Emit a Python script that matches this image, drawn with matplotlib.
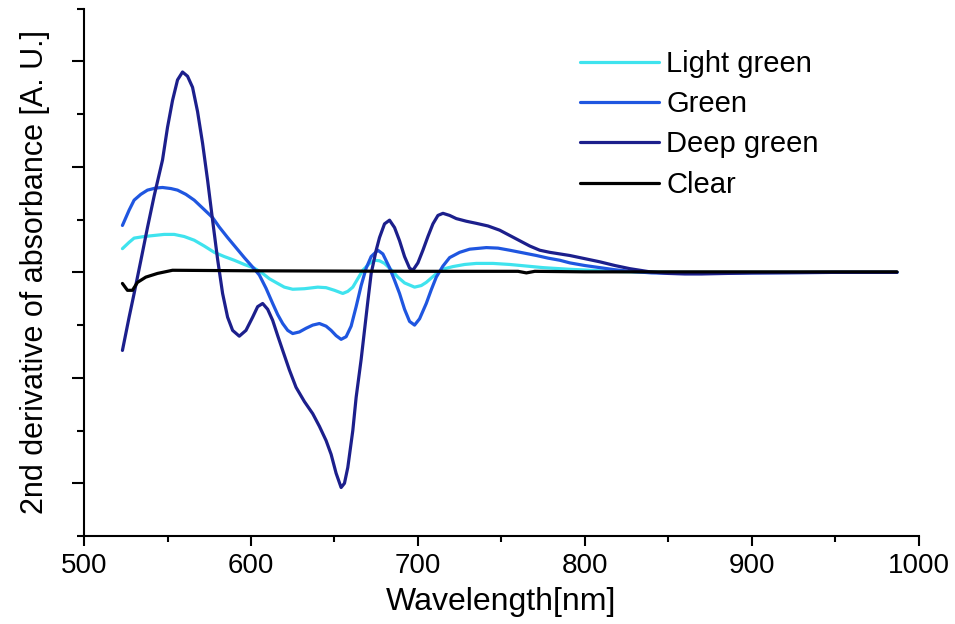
import numpy as np
import matplotlib
matplotlib.use("Agg")
import matplotlib.pyplot as plt
from matplotlib.ticker import MultipleLocator, NullFormatter

plt.rcParams['font.family'] = ['Liberation Sans', 'DejaVu Sans']

# values (wavelength in nm, 2nd derivative in A.U.)
light_nm = [523, 527, 530, 536, 542, 548, 554, 560, 566, 572, 578, 584, 590, 596,
            602, 607, 611, 616, 620, 625, 632, 640, 645, 650, 655, 658, 661, 664,
            667, 671, 674, 677, 680, 684, 688, 692, 698, 702, 705, 709, 712, 716,
            721, 728, 735, 745, 755, 765, 775, 790, 803, 815, 830, 860, 987]
light_val = [0.45, 0.57, 0.65, 0.68, 0.70, 0.72, 0.72, 0.68, 0.61, 0.50, 0.38,
             0.30, 0.23, 0.15, 0.08, -0.02, -0.12, -0.21, -0.28, -0.32, -0.31,
             -0.28, -0.29, -0.34, -0.40, -0.36, -0.28, -0.12, 0.04, 0.17, 0.23,
             0.22, 0.17, 0.05, -0.09, -0.20, -0.28, -0.25, -0.19, -0.08, 0.0,
             0.07, 0.11, 0.15, 0.17, 0.17, 0.15, 0.12, 0.09, 0.06, 0.04, 0.02,
             0.01, 0.0, 0.0]

green_nm = [523, 527, 530, 534, 538, 543, 547, 552, 556, 561, 566, 571, 577, 581,
            586, 591, 596, 601, 605, 609, 613, 616, 619, 622, 625, 629, 633, 637,
            641, 645, 648, 651, 654, 657, 660, 663, 666, 669, 672, 676, 679, 683,
            686, 689, 692, 695, 698, 701, 705, 708, 711, 715, 719, 725, 731, 741,
            748, 755, 763, 771, 778, 785, 791, 800, 809, 818, 827, 840, 855, 870,
            900, 950, 987]
green_val = [0.89, 1.18, 1.37, 1.48, 1.56, 1.60, 1.61, 1.59, 1.56, 1.48, 1.37,
             1.22, 1.04, 0.86, 0.66, 0.47, 0.28, 0.10, -0.05, -0.30, -0.59, -0.80,
             -0.97, -1.10, -1.16, -1.13, -1.06, -1.00, -0.97, -1.02, -1.10, -1.20,
             -1.27, -1.22, -1.02, -0.65, -0.25, 0.08, 0.30, 0.42, 0.35, 0.09,
             -0.15, -0.40, -0.70, -0.93, -1.0, -0.88, -0.59, -0.33, -0.09, 0.12,
             0.28, 0.38, 0.44, 0.47, 0.46, 0.42, 0.37, 0.32, 0.27, 0.23, 0.18,
             0.13, 0.09, 0.05, 0.02, -0.01, -0.02, -0.02, -0.01, 0.0, 0.0]

deep_nm = [523, 527, 530, 534, 538, 542, 547, 550, 553, 556, 559, 562, 565, 568,
           571, 574, 577, 580, 583, 586, 589, 593, 597, 601, 604, 607, 610, 613,
           616, 619, 623, 627, 632, 637, 641, 645, 648, 651, 654, 656, 658, 661,
           663, 666, 668, 670, 672, 675, 677, 680, 683, 686, 689, 692, 695, 697,
           700, 703, 706, 709, 712, 715, 719, 723, 729, 735, 742, 749, 755, 761,
           767, 773, 779, 785, 791, 800, 809, 818, 827, 839, 850, 860, 870, 885,
           900, 950, 987]
deep_val = [-1.48, -0.85, -0.40, 0.22, 0.85, 1.45, 2.13, 2.75, 3.26, 3.65, 3.80,
            3.72, 3.51, 3.05, 2.45, 1.75, 0.99, 0.25, -0.40, -0.85, -1.10, -1.21,
            -1.10, -0.85, -0.65, -0.59, -0.70, -0.91, -1.20, -1.48, -1.85, -2.18,
            -2.45, -2.68, -2.92, -3.19, -3.45, -3.81, -4.08, -4.00, -3.70, -3.00,
            -2.37, -1.65, -1.10, -0.55, -0.02, 0.42, 0.66, 0.92, 0.99, 0.85, 0.60,
            0.30, 0.08, 0.04, 0.18, 0.42, 0.68, 0.92, 1.08, 1.12, 1.08, 1.02,
            0.97, 0.93, 0.88, 0.80, 0.70, 0.60, 0.50, 0.42, 0.38, 0.35, 0.32,
            0.26, 0.20, 0.13, 0.07, 0.01, -0.02, -0.03, -0.03, -0.02, -0.01, 0.0,
            0.0]

clear_nm = [523, 526, 529, 532, 537, 544, 553, 600, 700, 760, 765, 770, 800, 900, 987]
clear_val = [-0.21, -0.34, -0.34, -0.19, -0.09, -0.02, 0.04, 0.03, 0.02, 0.02,
             -0.01, 0.02, 0.01, 0.01, 0.01]

fig = plt.figure(figsize=(9.55, 6.24), dpi=100)
ax = fig.add_axes([0.088, 0.141, 0.874, 0.845])

lw = 2.3
style = dict(lw=lw, solid_joinstyle='round', solid_capstyle='round')
ax.plot(light_nm, light_val, color='#3fe3ee', label='Light green', **style)
ax.plot(green_nm, green_val, color='#1f56e0', label='Green', **style)
ax.plot(deep_nm, deep_val, color='#1c1f8c', label='Deep green', **style)
ax.plot(clear_nm, clear_val, color='black', label='Clear', **style)

ax.set_xlim(500, 1000)
ax.set_ylim(-5, 5)
ax.xaxis.set_major_locator(MultipleLocator(100))
ax.xaxis.set_minor_locator(MultipleLocator(50))
ax.yaxis.set_major_locator(MultipleLocator(2))
ax.yaxis.set_minor_locator(MultipleLocator(1))
ax.yaxis.set_major_formatter(NullFormatter())

for s in ['top', 'right']:
    ax.spines[s].set_visible(False)
for s in ['left', 'bottom']:
    ax.spines[s].set_linewidth(1.5)

ax.tick_params(axis='both', which='major', direction='out', width=1.5, labelsize=20)
ax.tick_params(axis='y', which='major', length=9)
ax.tick_params(axis='y', which='minor', direction='out', width=1.5, length=5)
ax.tick_params(axis='x', which='major', length=7, pad=5)
ax.tick_params(axis='x', which='minor', direction='out', width=1.5, length=4)

ax.set_xlabel('Wavelength[nm]', fontsize=23, labelpad=6)
ax.set_ylabel('2nd derivative of absorbance [A. U.]', fontsize=22, labelpad=12)

ax.legend(loc='upper left', bbox_to_anchor=(580 / 955, 1 - 50 / 624),
          bbox_transform=fig.transFigure, frameon=False, fontsize=21,
          handlelength=2.7, handletextpad=0.25, labelspacing=0.42, borderpad=0,
          borderaxespad=0)

fig.savefig('out.png', dpi=100)
